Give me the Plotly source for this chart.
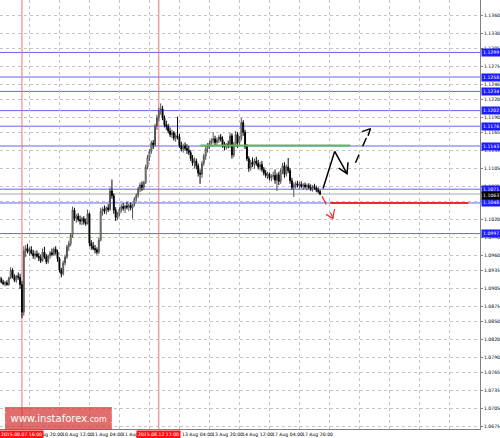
import plotly.graph_objects as go

# ---------------- data (EURUSD H1, bar index 0 = 07 Aug 2015 04:00) ----------------
opens = [1.0925,1.0921,1.0916,1.0913,1.0915,1.0912,1.0923,1.0936,1.0925,1.0919,
         1.0926,1.0924,1.0912,1.0866,1.0968,1.0972,1.0967,1.0970,1.0964,1.0960,
         1.0963,1.0959,1.0956,1.0952,1.0966,1.0958,1.0950,1.0960,1.0965,1.0962,
         1.0971,1.0966,1.0955,1.0936,1.0930,1.0948,1.0958,1.0975,1.0980,1.0994,
         1.1036,1.1022,1.1026,1.1020,1.1018,1.1022,1.1016,1.1014,1.1030,1.0981,
         1.0976,1.0972,1.0970,1.0966,1.0986,1.1034,1.1038,1.1035,1.1040,1.1037,
         1.1068,1.1060,1.1036,1.1024,1.1030,1.1038,1.1042,1.1039,1.1043,1.1041,
         1.1044,1.1040,1.1046,1.1055,1.1061,1.1072,1.1078,1.1074,1.1082,1.1108,
         1.1124,1.1134,1.1148,1.1145,1.1176,1.1190,1.1202,1.1205,1.1190,1.1178,
         1.1176,1.1168,1.1162,1.1165,1.1156,1.1160,1.1158,1.1144,1.1138,1.1143,
         1.1139,1.1136,1.1132,1.1122,1.1115,1.1118,1.1110,1.1098,1.1096,1.1114,
         1.1126,1.1138,1.1144,1.1148,1.1152,1.1155,1.1149,1.1153,1.1158,1.1154,
         1.1144,1.1141,1.1146,1.1143,1.1160,1.1128,1.1146,1.1162,1.1148,1.1156,
         1.1182,1.1166,1.1142,1.1122,1.1106,1.1116,1.1112,1.1118,1.1114,1.1108,
         1.1112,1.1104,1.1098,1.1094,1.1096,1.1090,1.1092,1.1094,1.1086,1.1095,
         1.1084,1.1102,1.1110,1.1096,1.1108,1.1102,1.1085,1.1074,1.1078,1.1080,
         1.1077,1.1079,1.1076,1.1078,1.1075,1.1077,1.1074,1.1072,1.1075,1.1073,
         1.1070,1.1067]
highs = [1.0929,1.0924,1.0920,1.0918,1.0919,1.0925,1.0941,1.0939,1.0929,1.0928,
         1.0932,1.0930,1.0918,1.0976,1.0978,1.0980,1.0974,1.0976,1.0970,1.0968,
         1.0969,1.0965,1.0962,1.0972,1.0975,1.0963,1.0962,1.0968,1.0972,1.0974,
         1.0976,1.0970,1.0958,1.0940,1.0952,1.0962,1.0978,1.0985,1.0998,1.1042,
         1.1040,1.1030,1.1031,1.1027,1.1025,1.1026,1.1022,1.1037,1.1032,1.0986,
         1.0983,1.0978,1.0974,1.0990,1.1040,1.1041,1.1044,1.1042,1.1046,1.1074,
         1.1087,1.1064,1.1041,1.1033,1.1041,1.1046,1.1048,1.1045,1.1050,1.1047,
         1.1049,1.1046,1.1058,1.1064,1.1075,1.1082,1.1084,1.1085,1.1112,1.1128,
         1.1138,1.1152,1.1153,1.1180,1.1195,1.1207,1.1214,1.1210,1.1194,1.1185,
         1.1180,1.1174,1.1170,1.1168,1.1164,1.1192,1.1163,1.1150,1.1147,1.1149,
         1.1146,1.1143,1.1136,1.1128,1.1124,1.1122,1.1114,1.1104,1.1118,1.1130,
         1.1142,1.1148,1.1152,1.1156,1.1166,1.1160,1.1157,1.1161,1.1163,1.1159,
         1.1150,1.1148,1.1152,1.1165,1.1164,1.1150,1.1168,1.1166,1.1160,1.1190,
         1.1186,1.1170,1.1146,1.1126,1.1120,1.1124,1.1122,1.1125,1.1120,1.1116,
         1.1118,1.1108,1.1103,1.1100,1.1099,1.1096,1.1100,1.1104,1.1098,1.1100,
         1.1106,1.1115,1.1116,1.1112,1.1123,1.1106,1.1090,1.1082,1.1084,1.1085,
         1.1083,1.1084,1.1081,1.1082,1.1080,1.1081,1.1079,1.1078,1.1080,1.1077,
         1.1074,1.1070]
lows  = [1.0919,1.0914,1.0911,1.0909,1.0910,1.0910,1.0921,1.0922,1.0916,1.0915,
         1.0920,1.0905,1.0856,1.0860,1.0958,1.0964,1.0960,1.0962,1.0955,1.0954,
         1.0957,1.0951,1.0948,1.0950,1.0955,1.0946,1.0947,1.0955,1.0959,1.0960,
         1.0962,1.0950,1.0932,1.0924,1.0927,1.0944,1.0955,1.0968,1.0976,1.0990,
         1.1018,1.1015,1.1017,1.1012,1.1011,1.1012,1.1010,1.1012,1.0976,1.0970,
         1.0969,1.0964,1.0962,1.0963,1.0984,1.1027,1.1030,1.1029,1.1033,1.1035,
         1.1055,1.1030,1.1018,1.1020,1.1026,1.1032,1.1035,1.1031,1.1037,1.1034,
         1.1036,1.1022,1.1042,1.1050,1.1057,1.1066,1.1068,1.1070,1.1080,1.1104,
         1.1118,1.1130,1.1138,1.1142,1.1170,1.1184,1.1195,1.1186,1.1174,1.1170,
         1.1164,1.1158,1.1156,1.1152,1.1150,1.1154,1.1140,1.1134,1.1132,1.1135,
         1.1130,1.1128,1.1118,1.1110,1.1106,1.1104,1.1092,1.1080,1.1090,1.1110,
         1.1120,1.1132,1.1138,1.1142,1.1147,1.1143,1.1144,1.1148,1.1150,1.1140,
         1.1136,1.1137,1.1139,1.1140,1.1122,1.1124,1.1142,1.1140,1.1144,1.1152,
         1.1160,1.1138,1.1118,1.1100,1.1102,1.1108,1.1105,1.1110,1.1104,1.1102,
         1.1100,1.1094,1.1090,1.1088,1.1086,1.1084,1.1087,1.1080,1.1068,1.1078,
         1.1080,1.1096,1.1090,1.1092,1.1098,1.1080,1.1070,1.1058,1.1072,1.1074,
         1.1071,1.1073,1.1070,1.1072,1.1069,1.1071,1.1068,1.1067,1.1070,1.1066,
         1.1064,1.1061]
closes = [1.0921,1.0916,1.0913,1.0915,1.0912,1.0923,1.0936,1.0925,1.0919,1.0926,
          1.0924,1.0912,1.0866,1.0968,1.0972,1.0967,1.0970,1.0964,1.0960,1.0963,
          1.0959,1.0956,1.0952,1.0966,1.0958,1.0950,1.0960,1.0965,1.0962,1.0971,
          1.0966,1.0955,1.0936,1.0930,1.0948,1.0958,1.0975,1.0980,1.0994,1.1036,
          1.1022,1.1026,1.1020,1.1018,1.1022,1.1016,1.1014,1.1030,1.0981,1.0976,
          1.0972,1.0970,1.0966,1.0986,1.1034,1.1038,1.1035,1.1040,1.1037,1.1068,
          1.1060,1.1036,1.1024,1.1030,1.1038,1.1042,1.1039,1.1043,1.1041,1.1044,
          1.1040,1.1046,1.1055,1.1061,1.1072,1.1078,1.1074,1.1082,1.1108,1.1124,
          1.1134,1.1148,1.1145,1.1176,1.1190,1.1202,1.1205,1.1190,1.1178,1.1176,
          1.1168,1.1162,1.1165,1.1156,1.1160,1.1158,1.1144,1.1138,1.1143,1.1139,
          1.1136,1.1132,1.1122,1.1115,1.1118,1.1110,1.1098,1.1096,1.1114,1.1126,
          1.1138,1.1144,1.1148,1.1152,1.1155,1.1149,1.1153,1.1158,1.1154,1.1144,
          1.1141,1.1146,1.1143,1.1160,1.1128,1.1146,1.1162,1.1148,1.1156,1.1182,
          1.1166,1.1142,1.1122,1.1106,1.1116,1.1112,1.1118,1.1114,1.1108,1.1112,
          1.1104,1.1098,1.1094,1.1096,1.1090,1.1092,1.1094,1.1086,1.1095,1.1084,
          1.1102,1.1110,1.1096,1.1108,1.1102,1.1085,1.1074,1.1078,1.1080,1.1077,
          1.1079,1.1076,1.1078,1.1075,1.1077,1.1074,1.1072,1.1075,1.1073,1.1070,
          1.1067,1.1063]

bid_price = 1.1063
blue_levels = [1.1299, 1.1258, 1.1234, 1.1202, 1.1176, 1.1143, 1.1071, 1.1048, 1.0997]

y_ticks = [1.1360, 1.1330, 1.1305, 1.1275, 1.1246, 1.1220, 1.1190, 1.1165, 1.1135,
           1.1105, 1.1075, 1.1050, 1.1020, 1.0990, 1.0960, 1.0935, 1.0905, 1.0875,
           1.0850, 1.0820, 1.0790, 1.0765, 1.0735, 1.0705, 1.0675]
y_tick_text = ["%.4f" % v for v in y_ticks]

x_label_bars = [16, 32, 48, 64, 96, 112, 128, 144, 160]
x_label_text = ["07 Aug 20:00", "10 Aug 12:00", "11 Aug 04:00", "11 Aug 20:00",
                "13 Aug 04:00", "13 Aug 20:00", "14 Aug 12:00", "17 Aug 04:00", "17 Aug 20:00"]
x_grid_bars = list(range(0, 257, 16))

vline_bars = [12, 85]
vline_text = ["2015.08.07 16:00", "2015.08.12 17:00"]

# drawn objects (bar index, price)
green_x = [107.2, 187.2]; green_y = [1.1144, 1.1144]
red_x = [176.5, 250.1];   red_y = [1.1048, 1.1048]
up_path_x = [172.6, 178.8, 185.4];   up_path_y = [1.1072, 1.1134, 1.1097]
up_head_x = [181.0, 185.4, 185.9];   up_head_y = [1.1106, 1.1097, 1.1116]
dash_path_x = [189.9, 197.7];        dash_path_y = [1.1115, 1.1171]
dash_head_x = [193.4, 197.9, 196.6]; dash_head_y = [1.1167, 1.1172, 1.1160]
down_path_x = [172.1, 178.0];        down_path_y = [1.1059, 1.1023]
down_head_x = [174.2, 177.8, 178.7]; down_head_y = [1.1029, 1.1022, 1.1038]

bars = list(range(len(closes)))

# ---------------- figure ----------------
fig = go.Figure()
fig.add_trace(go.Candlestick(
    x=bars, open=opens, high=highs, low=lows, close=closes,
    increasing=dict(line=dict(color="#505050", width=1), fillcolor="#ffffff"),
    decreasing=dict(line=dict(color="#000000", width=1), fillcolor="#000000"),
    whiskerwidth=0, showlegend=False, hoverinfo="skip"))

def seg(x, y, color, width, dash="solid"):
    fig.add_trace(go.Scatter(x=x, y=y, mode="lines", showlegend=False, hoverinfo="skip",
                             line=dict(color=color, width=width, dash=dash)))

shapes = []
shapes.append(dict(type="line", xref="paper", x0=0, x1=1, yref="y", y0=bid_price, y1=bid_price,
                   line=dict(color="#d4d4d4", width=2), layer="below"))
for lv in blue_levels:
    shapes.append(dict(type="line", xref="paper", x0=0, x1=1, yref="y", y0=lv, y1=lv,
                       line=dict(color="#6464f5", width=1), layer="below"))
for b in vline_bars:
    shapes.append(dict(type="line", xref="x", x0=b, x1=b, yref="paper", y0=0, y1=1,
                       line=dict(color="#f07070", width=1), layer="below"))
shapes.append(dict(type="rect", xref="paper", yref="paper", x0=0.0104, x1=0.233,
                   y0=-0.002, y1=0.0513, fillcolor="rgba(214,52,52,0.72)", line=dict(width=0)))
fig.update_layout(shapes=shapes)

seg(green_x, green_y, "#5cb85c", 2)
seg(red_x, red_y, "#ee2a2a", 2)
seg(up_path_x, up_path_y, "#000000", 1.5)
seg(up_head_x, up_head_y, "#000000", 1.5)
seg(dash_path_x, dash_path_y, "#000000", 1.5, "dash")
seg(dash_head_x, dash_head_y, "#000000", 1.5)
seg(down_path_x, down_path_y, "#ee2a2a", 1.2, "dash")
seg(down_head_x, down_head_y, "#ee2a2a", 1.2)

ann = []
FONT = "DejaVu Sans"
FS = 4.6
for b, t in zip(x_label_bars, x_label_text):
    ann.append(dict(x=b, xref="x", y=0, yref="paper", text=t, showarrow=False,
                    xanchor="left", yanchor="top", xshift=1, yshift=-1,
                    font=dict(size=FS, color="#000000", family=FONT)))
for b, t in zip(vline_bars, vline_text):
    ann.append(dict(x=b, xref="x", y=0, yref="paper", text=t, showarrow=False,
                    xanchor="center", yanchor="top", yshift=-1, bgcolor="#ff1010",
                    borderpad=1, font=dict(size=FS, color="#ffffff", family=FONT)))
for lv in blue_levels:
    ann.append(dict(x=1, xref="paper", y=lv, yref="y", text="%.4f" % lv, showarrow=False,
                    xanchor="left", yanchor="middle", xshift=1, bgcolor="#1c1cff",
                    borderpad=1, font=dict(size=FS, color="#ffffff", family=FONT)))
ann.append(dict(x=1, xref="paper", y=bid_price, yref="y", text="%.4f" % bid_price, showarrow=False,
                xanchor="left", yanchor="top", xshift=1, yshift=3, bgcolor="#000000",
                borderpad=1, font=dict(size=FS, color="#ffffff", family=FONT)))
ann.append(dict(x=0.121, xref="paper", y=0.0245, yref="paper", showarrow=False,
                text="[ <span style='font-size:10px'>www.instaforex</span><span style='font-size:8px'>.com</span> ]",
                xanchor="center", yanchor="middle",
                font=dict(size=12, color="#ffffff", family="DejaVu Sans")))

fig.update_layout(
    annotations=ann,
    width=500, height=438,
    margin=dict(l=0, r=20, t=0, b=9),
    paper_bgcolor="#ffffff", plot_bgcolor="#ffffff",
    xaxis=dict(range=[0.3, 256.3], rangeslider=dict(visible=False),
               tickvals=x_grid_bars, showticklabels=False, ticks="",
               showgrid=True, gridcolor="#c4c4c4", griddash="dot", gridwidth=1,
               zeroline=False, showline=True, linecolor="#808080", linewidth=1),
    yaxis=dict(range=[1.06712, 1.13864], side="right", tickvals=y_ticks, ticktext=y_tick_text,
               ticks="outside", ticklen=2, tickcolor="#808080", automargin=False,
               tickfont=dict(size=FS, color="#000000", family=FONT),
               showgrid=True, gridcolor="#c4c4c4", griddash="dot", gridwidth=1,
               zeroline=False, showline=True, linecolor="#808080", linewidth=1),
    showlegend=False,
)

fig.write_html("out.html", config={"displayModeBar": False},
               post_script="document.body.style.margin='0';document.body.style.padding='0';")
